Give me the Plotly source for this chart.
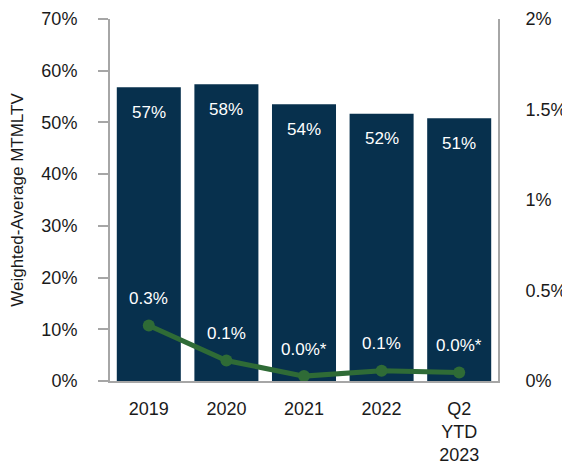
import plotly.graph_objects as go

categories = ["2019", "2020", "2021", "2022", "Q2<br>YTD<br>2023"]
mtmltv = [56.8, 57.4, 53.5, 51.7, 50.8]
mtmltv_labels = ["57%", "58%", "54%", "52%", "51%"]
loss_rate = [0.307, 0.113, 0.027, 0.056, 0.047]
loss_labels = ["0.3%", "0.1%", "0.0%*", "0.1%", "0.0%*"]

left_ticks = [0, 10, 20, 30, 40, 50, 60, 70]
left_ticktext = [f"{v}%" for v in left_ticks]
right_ticks = [0, 0.5, 1, 1.5, 2]
right_ticktext = ["0%", "0.5%", "1%", "1.5%", "2%"]

BAR_COLOR = "#07304d"
LINE_COLOR = "#2f6b36"
AXIS_COLOR = "#a6a6a6"
TEXT_COLOR = "#1a1a1a"
FONT = "Arial, Liberation Sans, sans-serif"

fig = go.Figure()
fig.add_trace(
    go.Bar(
        x=categories,
        y=mtmltv,
        marker=dict(color=BAR_COLOR, line=dict(width=0)),
        hoverinfo="skip",
    )
)
fig.add_trace(
    go.Scatter(
        x=categories,
        y=loss_rate,
        mode="lines+markers",
        line=dict(color=LINE_COLOR, width=5),
        marker=dict(color=LINE_COLOR, size=12),
        yaxis="y2",
    )
)

# annotation x on a category axis: use the category index, since
# year-like strings such as "2019" get read as numeric positions
for i, (val, lab) in enumerate(zip(mtmltv, mtmltv_labels)):
    fig.add_annotation(
        x=i, y=val, xref="x", yref="y", text=lab, showarrow=False,
        yanchor="middle", yshift=-25,
        font=dict(family=FONT, size=17, color="white"),
    )

for i, (val, lab) in enumerate(zip(loss_rate, loss_labels)):
    fig.add_annotation(
        x=i, y=val, xref="x", yref="y2", text=lab, showarrow=False,
        yanchor="middle", yshift=27,
        font=dict(family=FONT, size=17, color="white"),
    )

fig.update_layout(
    width=570,
    height=465,
    margin=dict(l=102, r=80, t=11, b=92),
    plot_bgcolor="white",
    paper_bgcolor="white",
    showlegend=False,
    bargap=0.175,
    font=dict(family=FONT, size=18, color=TEXT_COLOR),
    xaxis=dict(
        type="category",
        range=[-0.5, 4.5],
        automargin=False,
        showline=True,
        linecolor=AXIS_COLOR,
        linewidth=2,
        ticks="outside",
        ticklen=10,
        tickcolor="rgba(0,0,0,0)",
        tickfont=dict(size=18, color=TEXT_COLOR),
        showgrid=False,
    ),
    yaxis=dict(
        range=[0, 70],
        automargin=False,
        tickvals=left_ticks,
        ticktext=left_ticktext,
        showline=True,
        linecolor=AXIS_COLOR,
        linewidth=2,
        ticks="outside",
        ticklen=10,
        tickwidth=2,
        tickcolor=AXIS_COLOR,
        ticklabelstandoff=17,
        ticklabeloverflow="allow",
        tickfont=dict(size=18, color=TEXT_COLOR),
        showgrid=False,
        zeroline=False,
        title=dict(text="Weighted-Average MTMLTV", font=dict(size=17, color=TEXT_COLOR), standoff=17),
    ),
    yaxis2=dict(
        range=[0, 2],
        automargin=False,
        tickvals=right_ticks,
        ticktext=right_ticktext,
        overlaying="y",
        side="right",
        showline=True,
        linecolor=AXIS_COLOR,
        linewidth=2,
        ticks="outside",
        ticklen=22,
        tickcolor="rgba(0,0,0,0)",
        ticklabeloverflow="allow",
        tickfont=dict(size=18, color=TEXT_COLOR),
        showgrid=False,
        zeroline=False,
    ),
)

fig.write_html("out.html")
